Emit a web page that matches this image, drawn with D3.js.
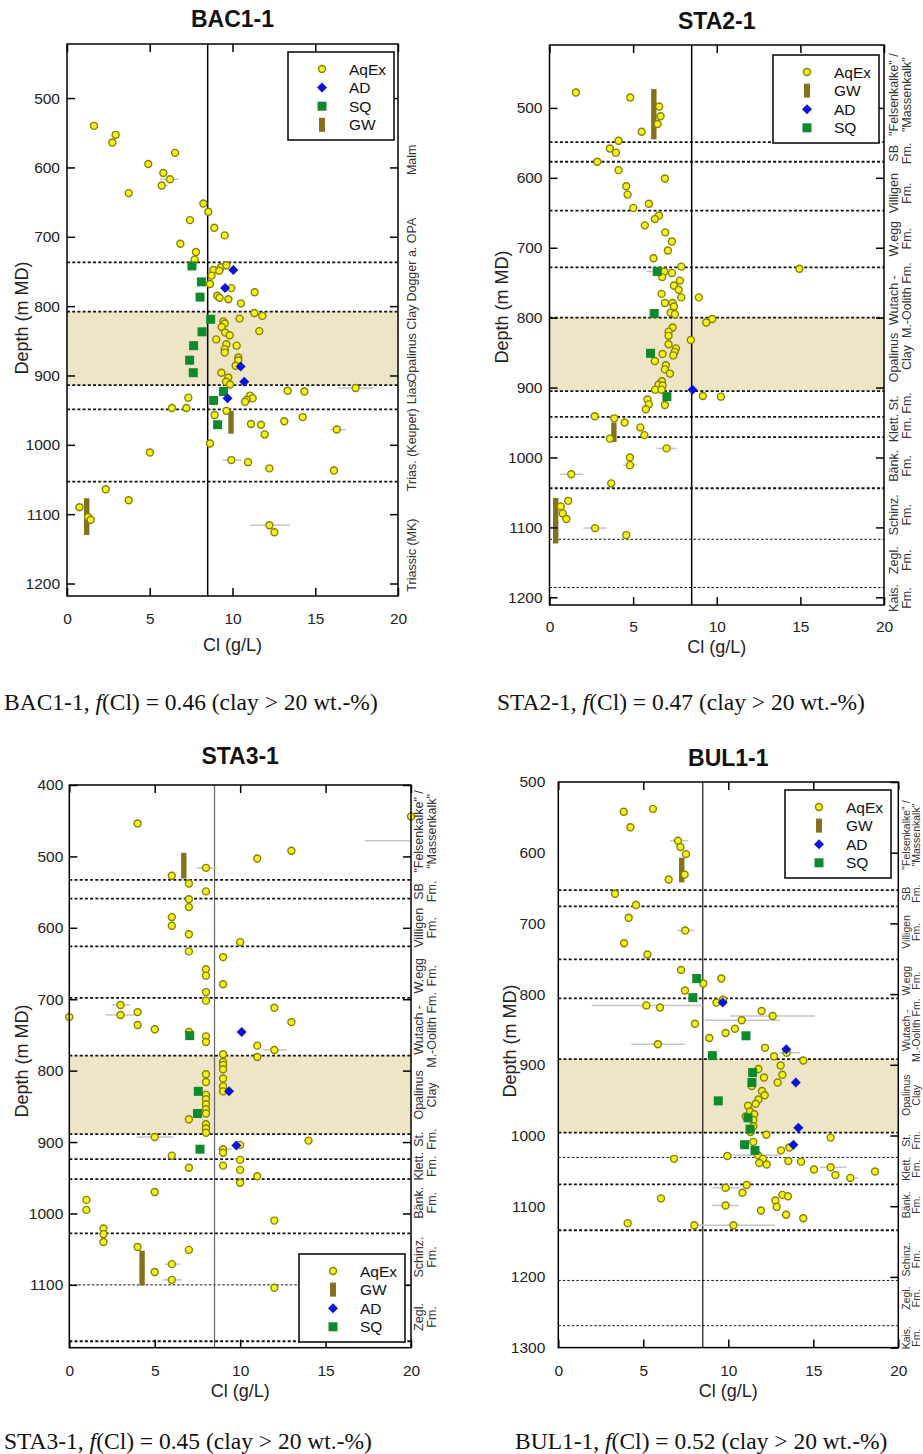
<!DOCTYPE html>
<html>
<head>
<meta charset="utf-8">
<script src="https://cdn.jsdelivr.net/npm/d3@7"></script>
<style>
  body { margin: 0; background: #fff; }
  svg { display: block; }
</style>
</head>
<body>
<svg id="fig" width="923" height="1454"></svg>
<script>
// ---------- shared ----------
const clTicks = [0, 5, 10, 15, 20];
const clDomain = [0, 20];
const clThreshold = 8.5;

// ---------- BAC1-1 ----------
const bac1DepthTicks = [500, 600, 700, 800, 900, 1000, 1100, 1200];
const bac1AqEx = [
  [1.63,540],[2.94,553],[2.74,564],[6.53,579],[4.91,595],[5.82,608],[6.22,617],[5.72,626],[3.73,637],
  [8.24,652],[8.54,664],[7.43,676],[8.9,687],[9.53,698],[6.85,710],[7.79,722],[7.71,733],[8.84,748],
  [9.3,744],[9.63,741],[9.2,749],[8.74,756],[8.64,768],[9.93,774],[9.08,785],[9.22,788],[9.75,790],
  [11.34,780],[10.51,796],[11.32,810],[11.8,814],[10.43,818],[9.45,822],[9.53,825],[9.35,830],[11.62,836],
  [9.55,838],[9.83,842],[9.02,848],[10.25,857],[9.63,855],[9.53,862],[9.53,867],[10.35,874],[10.35,878],
  [10.19,886],[9.33,896],[9.75,903],[9.61,909],[9.85,913],[13.33,922],[14.34,923],[17.44,918],[7.33,932],
  [11.06,929],[11.22,933],[10.86,935],[10.76,938],[6.34,947],[7.21,947],[9.63,951],[8.92,957],[11.12,970],
  [11.72,971],[11.94,985],[13.13,966],[14.24,960],[16.3,978],[8.64,998],[5.01,1011],[9.93,1022],[10.94,1025],
  [12.23,1034],[16.13,1037],[2.34,1064],[3.73,1080],[0.75,1090],[1.27,1104],[1.43,1108],[12.23,1116],[12.53,1126]
];
const bac1AD = [[10.05,748],[9.55,774],[10.49,887],[10.71,909],[9.7,933]];
const bac1SQ = [[7.55,742],[8.12,765],[8.04,787],[8.68,819],[8.16,837],[7.65,857],[7.41,878],[7.63,896],[9.45,923],[8.86,936],[9.1,971]];
const bac1GW = [[9.91,951,984],[1.19,1077,1130]];           // Cl, depth from, depth to
const bac1Err = [[918,16.4,18.5],[978,15.9,16.85],[1022,9.39,10.55],[1116,11.06,13.47],[617,5.62,6.73],[626,5.5,6.1]];
const bac1Bounds = [[737,1],[808,1],[914,1],[949,1],[1053,1]]; // depth, heavy(1)/light(0)
const bac1Clay = [808, 914];
const bac1Units = [["Malm",589],["Dogger a. OPA",733],["Opalinus Clay",854],["Lias",925],["Trias. (Keuper)",1007],["Triassic (MK)",1159]];

// ---------- STA2-1 ----------
const sta2DepthTicks = [500, 600, 700, 800, 900, 1000, 1100, 1200];
const sta2AqEx = [
  [1.58,478],[4.83,485],[6.56,498],[6.64,512],[6.46,523],[5.51,534],[4.13,547],[3.61,558],[3.97,564],[2.86,577],
  [4.13,589],[6.9,601],[4.59,612],[4.67,624],[5.01,643],[5.94,637],[6.54,654],[6.3,659],[5.7,668],[6.92,678],
  [7.32,691],[7.08,704],[6.22,715],[7.88,727],[6.86,734],[7.32,736],[6.74,742],[7.8,747],[7.44,754],[7.72,760],
  [6.7,766],[7.88,771],[6.9,779],[7.36,779],[7.44,784],[7.24,793],[7.5,795],[8.93,771],[14.94,730],[9.73,802],
  [9.37,807],[7.36,814],[7.12,820],[7.12,826],[7.12,838],[7.56,844],[7.48,849],[7.4,854],[6.76,852],[6.3,862],
  [8.45,832],[6.96,868],[6.9,874],[7.2,880],[6.72,891],[6.52,896],[6.76,897],[6.32,903],[6.7,903],[9.17,912],
  [10.25,913],[5.86,917],[5.94,924],[5.76,931],[6.9,925],[2.7,941],[3.87,944],[4.49,950],[5.43,957],[5.67,968],
  [3.61,973],[7.0,987],[4.81,1000],[4.81,1011],[1.3,1024],[3.69,1037],[1.12,1062],[0.67,1070],[0.79,1080],
  [1.01,1088],[2.72,1101],[4.59,1111]
];
const sta2AD = [[8.55,903]];
const sta2SQ = [[6.44,734],[6.26,794],[6.04,851],[7.02,913]];
const sta2GW = [[6.24,473,545],[3.85,950,978],[0.37,1058,1123]];
const sta2Err = [[1024,0.63,2.02],[1101,2.02,3.42],[987,6.4,7.6],[1011,4.41,5.21],[734,5.8,6.9]];
const sta2Bounds = [[549,1],[577,1],[647,1],[728,1],[800,1],[905,1],[942,1],[971,1],[1044,1],[1117,0],[1186,0]];
const sta2Clay = [800, 905];
const sta2Units = [
  ['"Felsenkalke" /','"Massenkalk"',481],['SB','Fm.',565],['Villigen','Fm.',622],['W.egg','Fm.',687],
  ['Wutach -','M.-Oolith Fm.',775],['Opalinus','Clay',857],['St.','Fm.',922],['Klett.','Fm.',958],
  ['Bänk.','Fm.',1012],['Schinz.','Fm.',1082],['Zegl.','Fm.',1147],['Kais.','Fm.',1201]
];

// ---------- STA3-1 ----------
const sta3DepthTicks = [400, 500, 600, 700, 800, 900, 1000, 1100];
const sta3AqEx = [
  [4,454],[20,444],[13,492],[11,503],[8,516],[6,527],[7,538],[8,549],[7,560],[7,571],[6,585],[6,597],[7,609],
  [10,620],[7,633],[9,641],[8,658],[8,667],[9,679],[8,690],[8,702],[3,708],[3,722],[4,718],[0,725],[4,736],
  [5,742],[12,712],[13,732],[7,746],[8,752],[8,760],[11,765],[12,771],[9,777],[11,781],[8,805],[8,816],
  [9,788],[9,792],[9,798],[9,811],[9,822],[9,829],[8,834],[8,840],[8,847],[8,854],[8,860],[8,875],[8,881],
  [8,887],[7,868],[5,893],[14,898],[10,904],[9,910],[9,915],[6,919],[10,925],[7,936],[9,933],[10,939],
  [11,948],[10,957],[5,970],[1,981],[1,995],[12,1010],[2,1021],[2,1029],[2,1040],[4,1047],[7,1051],[6,1071],
  [5,1082],[6,1093],[12,1104]
];
const sta3AD = [[10.09,746],[9.35,829],[9.78,905]];
const sta3SQ = [[7.05,751],[7.55,829],[7.5,860],[7.65,910]];
const sta3GW = [[6.7,495,531],[4.26,1052,1101]];
const sta3Err = [[478,17.3,19.95],[708,2.48,3.55],[722,2.13,3.94],[516,7.46,8.63],[771,11.36,12.73],[893,3.94,6.09],[1093,5.5,6.58],[1071,5.6,6.5],[910,8.7,9.5]];
const sta3Bounds = [[533,1],[559,1],[626,1],[698,1],[779,1],[889,1],[924,1],[952,1],[1028,1],[1100,0],[1179,1]];
const sta3Clay = [779, 889];
const sta3Units = [
  ['"Felsenkalke" /','"Massenkalk"',465],['SB','Fm.',549],['Villigen','Fm.',600],['W.egg','Fm.',667],
  ['Wutach -','M.-Oolith Fm.',743],['Opalinus','Clay',834],['St.','Fm.',896],['Klett.','Fm.',934],
  ['Bänk.','Fm.',985],['Schinz.','Fm.',1061],['Zegl.','Fm.',1145]
];

// ---------- BUL1-1 ----------
const bul1DepthTicks = [500, 600, 700, 800, 900, 1000, 1100, 1200, 1300];
const bul1AqEx = [
  [3.85,542],[5.57,538],[4.24,564],[7.04,583],[7.18,592],[7.51,602],[7.43,631],[6.49,638],[3.34,658],[4.57,674],
  [4.14,692],[7.47,710],[3.87,728],[5.24,744],[7.22,766],[8.53,785],[9.59,778],[7.45,795],[9.3,812],[9.69,808],
  [5.18,816],[5.98,819],[11.96,824],[12.61,831],[10.79,837],[10.39,849],[9.84,855],[8.04,842],[8.88,862],[5.86,871],
  [12.16,876],[13.43,883],[12.69,888],[14.41,894],[13.08,901],[13.18,914],[12.9,925],[11.77,906],[12.1,918],
  [11.38,930],[11.98,937],[12.14,943],[11.77,949],[11.61,955],[11.16,958],[11.28,966],[11.53,970],[11.47,978],
  [11.02,973],[11.47,987],[11.3,995],[12.24,999],[16.02,1003],[11.47,1009],[13.59,1017],[13.1,1021],[9.94,1029],
  [11.75,1028],[12.04,1033],[11.82,1039],[12.26,1041],[13.53,1036],[14.28,1037],[15.04,1048],[16.02,1045],
  [16.3,1056],[17.18,1060],[18.63,1051],[6.81,1033],[11.08,1070],[9.84,1074],[10.83,1081],[13.18,1084],
  [13.51,1086],[12.77,1092],[12.85,1101],[9.84,1099],[11.92,1106],[13.4,1112],[14.41,1117],[6.04,1089],
  [4.08,1124],[8.0,1127],[10.3,1127]
];
const bul1AD = [[9.67,812],[13.41,878],[13.97,925],[14.12,989],[13.83,1013]];
const bul1SQ = [[8.14,778],[7.92,805],[11.04,859],[9.06,887],[11.43,911],[11.39,925],[9.41,951],[11.16,975],[11.28,991],[10.96,1013],[11.57,1021]];
const bul1GW = [[7.26,607,642]];
const bul1Err = [[871,4.3,7.45],[816,1.96,8.5],[837,8.63,13.04],[831,10.1,15.1],[583,6.57,7.65],[1127,8.0,12.75],
  [1099,9.06,10.63],[1045,15.4,16.96],[1060,16.96,17.65],[1028,10.3,13.1],[1074,9.06,10.69],[710,7.0,8.0],[883,13.0,14.2]];
const bul1Bounds = [[653,1],[676,1],[751,1],[806,1],[892,1],[996,1],[1031,0],[1069,1],[1134,1],[1205,0],[1269,0]];
const bul1Clay = [892, 996];
const bul1Units = [
  ['"Felsenkalke" /','"Massenkalk"',575],['SB','Fm.',658],['Villigen','Fm.',712],['W.egg','Fm.',781],
  ['Wutach -','M.-Oolith Fm.',851],['Opalinus','Clay',943],['St.','Fm.',1007],['Klett.','Fm.',1047],
  ['Bänk.','Fm.',1098],['Schinz.','Fm.',1175],['Zegl.','Fm.',1230],['Kais.','Fm.',1286]
];

// ---------- styling ----------
const SANS = "'Liberation Sans', Arial, sans-serif";
const SERIF = "'Liberation Serif', 'Times New Roman', serif";
const COL = {
  aqexFill: "#f2f221", aqexStroke: "#8a8000",
  ad: "#0b14d4", sq: "#0e8a2c", gw: "#85701e",
  clay: "#ede5c6", err: "#c4c4c4"
};
const R = 3.5;

const svg = d3.select("#fig");

function marker(g, kind, cx, cy) {
  if (kind === "AqEx") {
    g.append("circle").attr("cx", cx).attr("cy", cy).attr("r", R)
      .attr("fill", COL.aqexFill).attr("stroke", COL.aqexStroke).attr("stroke-width", 1.4);
  } else if (kind === "AD") {
    const s = 5;
    g.append("path").attr("d", `M${cx},${cy - s}L${cx + s},${cy}L${cx},${cy + s}L${cx - s},${cy}Z`)
      .attr("fill", COL.ad);
  } else if (kind === "SQ") {
    g.append("rect").attr("x", cx - 4.5).attr("y", cy - 4.5).attr("width", 9).attr("height", 9)
      .attr("fill", COL.sq);
  } else if (kind === "GW") {
    g.append("rect").attr("x", cx - 3).attr("y", cy - 7).attr("width", 6).attr("height", 14)
      .attr("fill", COL.gw);
  }
}

function drawPanel(p) {
  const x = d3.scaleLinear().domain(clDomain).range([p.left, p.right]);
  const y = d3.scaleLinear().domain(p.yDomain).range([p.top, p.bottom]);
  const g = svg.append("g");

  // Opalinus Clay band
  g.append("rect")
    .attr("x", x(0)).attr("width", x(20) - x(0))
    .attr("y", y(p.clay[0])).attr("height", y(p.clay[1]) - y(p.clay[0]))
    .attr("fill", COL.clay);

  // formation boundaries
  g.selectAll(null).data(p.bounds).join("line")
    .attr("x1", x(0)).attr("x2", x(20))
    .attr("y1", d => y(d[0])).attr("y2", d => y(d[0]))
    .attr("stroke", "#111")
    .attr("stroke-width", d => d[1] ? 1.8 : 1)
    .attr("stroke-dasharray", d => d[1] ? "3,2.2" : "2.5,2");

  // reference chloride level
  g.append("line")
    .attr("x1", x(clThreshold)).attr("x2", x(clThreshold))
    .attr("y1", p.top).attr("y2", p.bottom)
    .attr("stroke", p.threshColor).attr("stroke-width", p.threshWidth);

  // horizontal uncertainty bars
  g.selectAll(null).data(p.err).join("line")
    .attr("x1", d => x(d[1])).attr("x2", d => x(d[2]))
    .attr("y1", d => y(d[0])).attr("y2", d => y(d[0]))
    .attr("stroke", COL.err).attr("stroke-width", 1.5);

  // groundwater intervals
  g.selectAll(null).data(p.gw).join("rect")
    .attr("x", d => x(d[0]) - 2.7).attr("width", 5.4)
    .attr("y", d => y(d[1])).attr("height", d => y(d[2]) - y(d[1]))
    .attr("fill", COL.gw);

  // aqueous extraction
  g.selectAll(null).data(p.aqex).join("circle")
    .attr("cx", d => x(d[0])).attr("cy", d => y(d[1])).attr("r", R)
    .attr("fill", COL.aqexFill).attr("stroke", COL.aqexStroke).attr("stroke-width", 1.4);

  // squeezing
  g.selectAll(null).data(p.sq).join("rect")
    .attr("x", d => x(d[0]) - 4.5).attr("y", d => y(d[1]) - 4.5)
    .attr("width", 9).attr("height", 9).attr("fill", COL.sq);

  // advective displacement
  g.selectAll(null).data(p.ad).join("path")
    .attr("d", d => {
      const cx = x(d[0]), cy = y(d[1]), s = 5;
      return `M${cx},${cy - s}L${cx + s},${cy}L${cx},${cy + s}L${cx - s},${cy}Z`;
    })
    .attr("fill", COL.ad);

  // frame
  g.append("rect")
    .attr("x", p.left).attr("y", p.top)
    .attr("width", p.right - p.left).attr("height", p.bottom - p.top)
    .attr("fill", "none").attr("stroke", "#000").attr("stroke-width", 1.5);

  const styleAxis = a => {
    a.select(".domain").remove();
    a.selectAll(".tick line").attr("stroke", "#000").attr("stroke-width", 1.5);
    a.selectAll("text").attr("fill", "#222");
    a.attr("font-family", SANS).attr("font-size", 15.5);
  };

  // depth axis (labels) and mirrored ticks
  const left = g.append("g").attr("transform", `translate(${p.left},0)`)
    .call(d3.axisLeft(y).tickValues(p.yTicks).tickFormat(d3.format("d"))
      .tickSize(p.leftTicks ? -8 : 0).tickPadding(p.yPad));
  styleAxis(left);
  const right = g.append("g").attr("transform", `translate(${p.right},0)`)
    .call(d3.axisRight(y).tickValues(p.yTicks).tickSize(-8).tickFormat(() => ""));
  styleAxis(right);

  // chloride axis
  const bottom = g.append("g").attr("transform", `translate(0,${p.bottom})`)
    .call(d3.axisBottom(x).tickValues(clTicks).tickFormat(d3.format("d")).tickSize(-8).tickPadding(p.xPad));
  styleAxis(bottom);
  const top = g.append("g").attr("transform", `translate(0,${p.top})`)
    .call(d3.axisTop(x).tickValues(clTicks).tickSize(-8).tickFormat(() => ""));
  styleAxis(top);

  // axis titles
  g.append("text").attr("x", (p.left + p.right) / 2).attr("y", p.xLabelY)
    .attr("text-anchor", "middle").attr("font-family", SANS).attr("font-size", 18).attr("fill", "#222")
    .text("Cl (g/L)");
  g.append("text")
    .attr("transform", `translate(${p.yLabelX},${p.yLabelY}) rotate(-90)`)
    .attr("text-anchor", "middle").attr("dominant-baseline", "central")
    .attr("font-family", SANS).attr("font-size", 18).attr("fill", "#222")
    .text("Depth (m MD)");

  // panel title
  g.append("text").attr("x", (p.left + p.right) / 2).attr("y", p.titleY)
    .attr("text-anchor", "middle").attr("font-family", SANS).attr("font-weight", "bold")
    .attr("font-size", 23).attr("fill", "#111").text(p.title);

  // formation names along the right edge
  p.units.forEach(u => {
    if (u.length === 2) {
      g.append("text")
        .attr("transform", `translate(${p.right + 14},${y(u[1])}) rotate(-90)`)
        .attr("text-anchor", "middle").attr("dominant-baseline", "central")
        .attr("font-family", SANS).attr("font-size", p.unitFont).attr("fill", "#333").text(u[0]);
    } else {
      [u[0], u[1]].forEach((t, i) => {
        g.append("text")
          .attr("transform", `translate(${p.right + p.unitOff[i]},${y(u[2])}) rotate(-90)`)
          .attr("text-anchor", "middle").attr("dominant-baseline", "central")
          .attr("font-family", SANS).attr("font-size", p.unitFont).attr("fill", "#333").text(t);
      });
    }
  });

  // legend
  const lg = g.append("g").attr("transform", `translate(${p.legend[0]},${p.legend[1]})`);
  lg.append("rect").attr("width", 106).attr("height", 88)
    .attr("fill", "#fff").attr("stroke", "#000").attr("stroke-width", 1.5);
  p.legendOrder.forEach((k, i) => {
    const ry = 17 + i * 18.6;
    marker(lg, k, 34, ry);
    lg.append("text").attr("x", 61).attr("y", ry).attr("dominant-baseline", "central")
      .attr("font-family", SANS).attr("font-size", 15.5).attr("fill", "#111").text(k);
  });

  // caption
  const cap = svg.append("text").attr("x", p.capX).attr("y", p.capY)
    .attr("font-family", SERIF).attr("font-size", 23.5).attr("fill", "#111");
  cap.append("tspan").text(p.title + ", ");
  cap.append("tspan").attr("font-style", "italic").text("f");
  cap.append("tspan").text(`(Cl) = ${p.fCl} (clay > 20 wt.-%)`);
}

drawPanel({
  title: "BAC1-1", fCl: "0.46",
  left: 67, right: 398, top: 44, bottom: 596, yDomain: [422, 1218], yTicks: bac1DepthTicks,
  aqex: bac1AqEx, ad: bac1AD, sq: bac1SQ, gw: bac1GW, err: bac1Err,
  bounds: bac1Bounds, clay: bac1Clay, units: bac1Units, unitFont: 12.5, unitOff: [10, 23],
  legend: [288, 52], legendOrder: ["AqEx", "AD", "SQ", "GW"],
  threshColor: "#000", threshWidth: 1.5, leftTicks: true,
  yPad: 7, xPad: 17, xLabelY: 651, yLabelX: 22, yLabelY: 318, titleY: 27,
  capX: 4, capY: 710
});

drawPanel({
  title: "STA2-1", fCl: "0.47",
  left: 549.5, right: 884, top: 45, bottom: 605, yDomain: [410, 1211], yTicks: sta2DepthTicks,
  aqex: sta2AqEx, ad: sta2AD, sq: sta2SQ, gw: sta2GW, err: sta2Err,
  bounds: sta2Bounds, clay: sta2Clay, units: sta2Units, unitFont: 12.5, unitOff: [10, 23],
  legend: [773, 55], legendOrder: ["AqEx", "GW", "AD", "SQ"],
  threshColor: "#000", threshWidth: 1.5, leftTicks: true,
  yPad: 7, xPad: 16, xLabelY: 653, yLabelX: 502, yLabelY: 307, titleY: 29,
  capX: 497, capY: 710
});

drawPanel({
  title: "STA3-1", fCl: "0.45",
  left: 69.3, right: 411, top: 785, bottom: 1347.7, yDomain: [400, 1188], yTicks: sta3DepthTicks,
  aqex: sta3AqEx, ad: sta3AD, sq: sta3SQ, gw: sta3GW, err: sta3Err,
  bounds: sta3Bounds, clay: sta3Clay, units: sta3Units, unitFont: 12.5, unitOff: [8, 21],
  legend: [299, 1254], legendOrder: ["AqEx", "GW", "AD", "SQ"],
  threshColor: "#666", threshWidth: 1.2, leftTicks: true,
  yPad: 6, xPad: 17, xLabelY: 1397, yLabelX: 22, yLabelY: 1061, titleY: 764,
  capX: 4, capY: 1449
});

drawPanel({
  title: "BUL1-1", fCl: "0.52",
  left: 558.3, right: 898.3, top: 782, bottom: 1347.6, yDomain: [500, 1300], yTicks: bul1DepthTicks,
  aqex: bul1AqEx, ad: bul1AD, sq: bul1SQ, gw: bul1GW, err: bul1Err,
  bounds: bul1Bounds, clay: bul1Clay, units: bul1Units, unitFont: 10.5, unitOff: [7.5, 18],
  legend: [785, 790], legendOrder: ["AqEx", "GW", "AD", "SQ"],
  threshColor: "#000", threshWidth: 1.1, leftTicks: false,
  yPad: 13, xPad: 17, xLabelY: 1397, yLabelX: 510, yLabelY: 1041, titleY: 766,
  capX: 515, capY: 1449
});
</script>
</body>
</html>
